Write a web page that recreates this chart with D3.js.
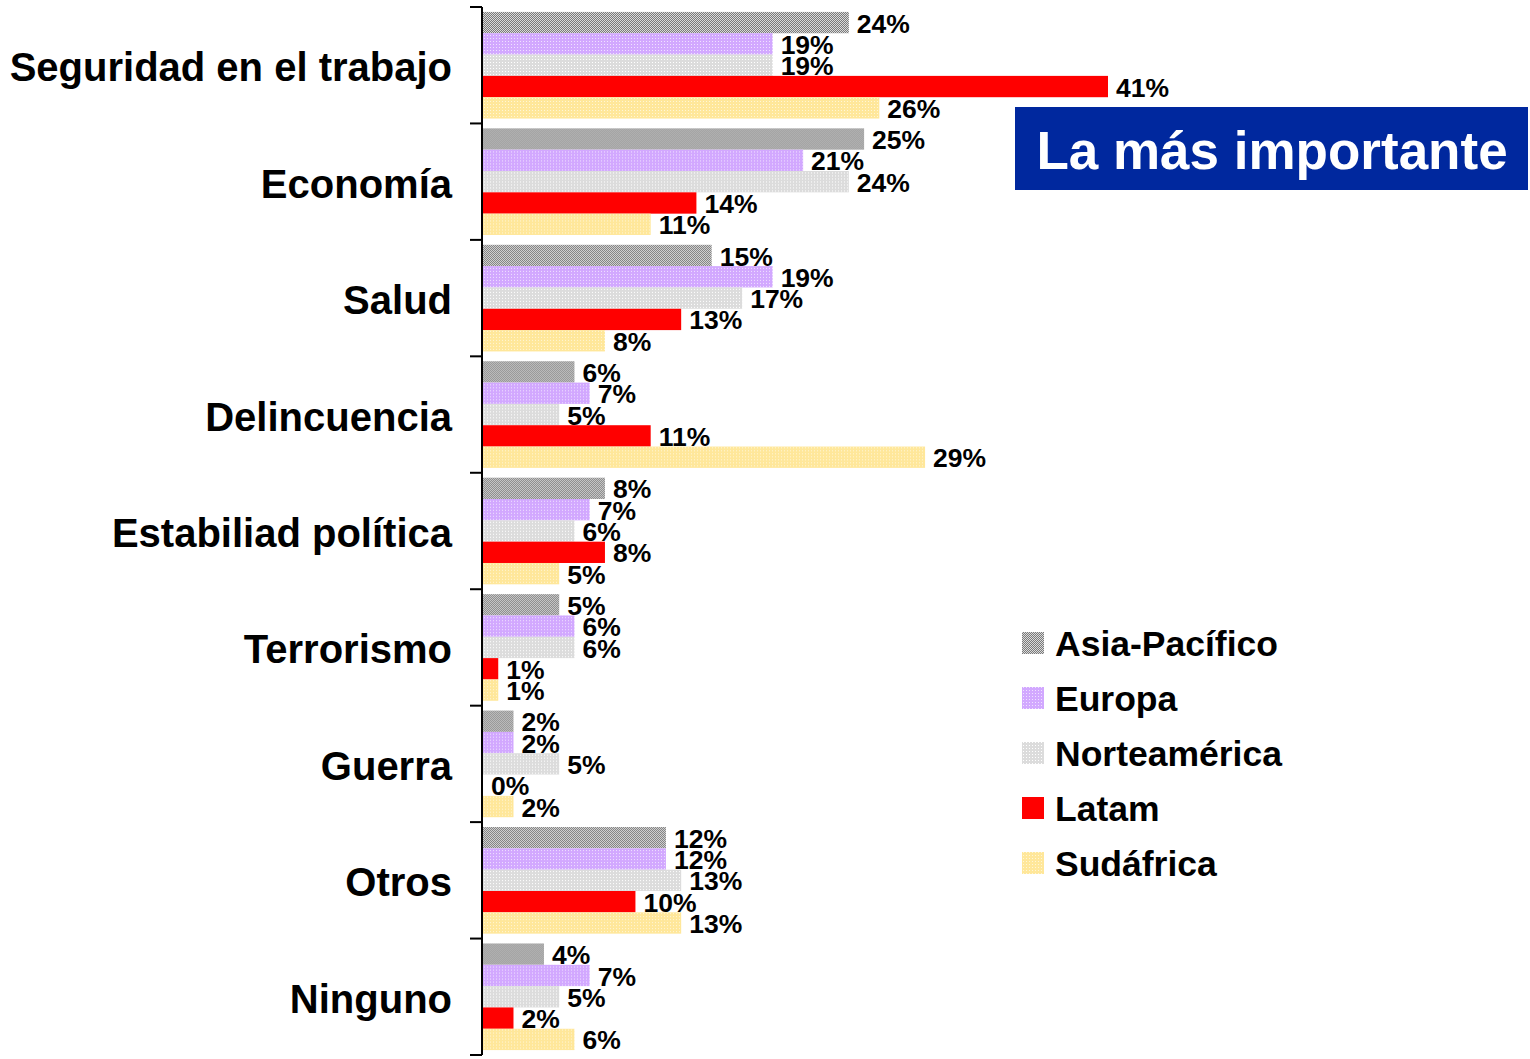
<!DOCTYPE html>
<html><head><meta charset="utf-8">
<script src="https://cdn.jsdelivr.net/npm/d3@7"></script>
<style>body{margin:0;background:#fff}svg{display:block}text{font-family:"Liberation Sans",Arial,sans-serif;font-weight:bold}</style>
</head><body>
<script>
const categories = ["Seguridad en el trabajo","Economía","Salud","Delincuencia","Estabiliad política","Terrorismo","Guerra","Otros","Ninguno"];
const seriesNames = ["Asia-Pacífico","Europa","Norteamérica","Latam","Sudáfrica"];
const asiaPacifico = [24,25,15,6,8,5,2,12,4];
const europa       = [19,21,19,7,7,6,2,12,7];
const norteamerica = [19,24,17,5,6,6,5,13,5];
const latam        = [41,14,13,11,8,1,0,10,2];
const sudafrica    = [26,11,8,29,5,1,2,13,6];
const seriesValues = [asiaPacifico, europa, norteamerica, latam, sudafrica];
const title = "La más importante";

const W = 1530, H = 1059;
const svg = d3.select("body").append("svg").attr("width", W).attr("height", H);
const defs = svg.append("defs");

function checker(id, c1, c2){
  const p = defs.append("pattern").attr("id", id).attr("width", 2).attr("height", 2).attr("patternUnits","userSpaceOnUse");
  p.append("rect").attr("width",2).attr("height",2).attr("fill",c2);
  p.append("rect").attr("width",1).attr("height",1).attr("fill",c1);
  p.append("rect").attr("x",1).attr("y",1).attr("width",1).attr("height",1).attr("fill",c1);
}
function dots(id, base, dot){
  const p = defs.append("pattern").attr("id", id).attr("width", 3).attr("height", 3).attr("patternUnits","userSpaceOnUse");
  p.append("rect").attr("width",3).attr("height",3).attr("fill",base);
  p.append("rect").attr("x",1).attr("y",1).attr("width",1).attr("height",1).attr("fill",dot);
}
checker("pAsia", "#7a7a7a", "#dadada");
dots("pEur", "#d2a8ff", "#f0e2ff");
dots("pNA", "#dcdcdc", "#ffffff");
dots("pSud", "#ffe79a", "#fff6d6");
const fills = ["url(#pAsia)","url(#pEur)","url(#pNA)","#ff0000","url(#pSud)"];

const x0 = 483;
const x = d3.scaleLinear().domain([0, 41]).range([x0, 1108]);
const y = d3.scaleBand().domain(categories).range([7, 1055]).paddingInner(0).paddingOuter(0);
const yi = d3.scaleBand().domain(d3.range(seriesNames.length)).range([0, y.bandwidth()]).paddingInner(0).paddingOuter(0.23);

const g = svg.append("g");
categories.forEach((c, ci) => {
  const gg = g.append("g").attr("transform", `translate(0,${y(c)})`);
  seriesValues.forEach((vals, si) => {
    const v = vals[ci];
    gg.append("rect")
      .attr("x", x(0)).attr("y", yi(si))
      .attr("width", x(v) - x(0)).attr("height", yi.bandwidth())
      .attr("fill", fills[si]);
    gg.append("text")
      .attr("x", x(v) + 8).attr("y", yi(si) + yi.bandwidth()/2)
      .attr("dy", "0.38em")
      .attr("font-size", 26.5)
      .attr("fill", "#000")
      .text(v + "%");
  });
});

// axis
const axis = d3.axisLeft(y).tickSize(0).tickFormat(d => d).tickPadding(30);
const ax = svg.append("g").attr("transform", `translate(${x0 - 1},0)`).call(axis);
ax.select(".domain").attr("stroke", "#000").attr("stroke-width", 2).attr("d", `M0,${y.range()[0]}V${y.range()[1]}`);
ax.selectAll(".tick text").attr("font-size", 40).attr("fill", "#000").attr("dy", "0.4em")
  .attr("font-family", '"Liberation Sans",Arial,sans-serif').attr("font-weight","bold");
const bounds = categories.map(c => y(c)).concat([y.range()[1]]);
ax.selectAll("line.sep").data(bounds).enter().append("line")
  .attr("class","sep").attr("x1", -12).attr("x2", 0)
  .attr("y1", d => d).attr("y2", d => d).attr("stroke", "#000").attr("stroke-width", 2);

// title box
svg.append("rect").attr("x", 1015).attr("y", 107).attr("width", 513).attr("height", 83).attr("fill", "#00289e");
svg.append("text").attr("x", 1272).attr("y", 150).attr("dy", "0.36em").attr("text-anchor","middle")
  .attr("font-size", 53).attr("fill", "#fff").text(title);

// legend
const lg = svg.append("g").attr("transform", "translate(1022,643)");
seriesNames.forEach((s, i) => {
  const r = lg.append("g").attr("transform", `translate(0,${i*55})`);
  r.append("rect").attr("x", 0).attr("y", -11).attr("width", 22).attr("height", 22).attr("fill", fills[i]);
  r.append("text").attr("x", 33).attr("y", 0).attr("dy","0.36em").attr("font-size", 35.5).attr("fill","#000").text(s);
});
</script>
</body></html>
